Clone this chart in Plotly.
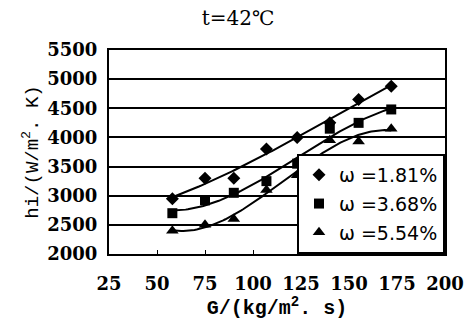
import numpy as np
import plotly.graph_objects as go

G = [58, 75, 90, 107, 123, 140, 155, 172]
hi_181 = [2950, 3300, 3300, 3800, 4000, 4250, 4650, 4880]
hi_368 = [2700, 2920, 3050, 3250, 3550, 4150, 4250, 4480]
hi_554 = [2400, 2500, 2600, 3100, 3350, 3950, 3930, 4150]
names = ["ω =1.81%", "ω =3.68%", "ω =5.54%"]
symbols = ["diamond", "square", "triangle-up"]
sizes = [9, 9, 10]
x_ticks = [25, 50, 75, 100, 125, 150, 175, 200]
y_ticks = [2000, 2500, 3000, 3500, 4000, 4500, 5000, 5500]

fig = go.Figure()
xs = np.linspace(min(G), max(G), 100)
for ys in [hi_181, hi_368, hi_554]:
    c = np.polyfit(G, ys, 3)
    fig.add_trace(go.Scatter(x=xs, y=np.polyval(c, xs), mode="lines",
                             line=dict(color="black", width=2), showlegend=False,
                             hoverinfo="skip"))
for i, (ys, n, s, sz) in enumerate(zip([hi_181, hi_368, hi_554], names, symbols, sizes)):
    fig.add_trace(go.Scatter(x=G, y=ys, mode="markers", name=n, legendgroup=f"g{i}",
                             marker=dict(symbol=s, size=sz + 1, color="black")))

tickfont = dict(family="DejaVu Serif", size=18, color="black", weight="bold")
fig.update_layout(
    width=476, height=320,
    margin=dict(l=109, r=21, t=50, b=63),
    paper_bgcolor="white", plot_bgcolor="white",
    title=dict(text="t=42℃", x=0.5, xanchor="center", y=0.945, yanchor="middle",
               font=dict(family="DejaVu Serif", size=20, color="black")),
    xaxis=dict(range=[25, 200], tickvals=x_ticks, showgrid=False, zeroline=False,
               showline=True, linecolor="black", linewidth=2, mirror=True,
               ticks="inside", ticklen=4, tickcolor="black",
               tickfont=tickfont, ticklabelstandoff=12,
               title=dict(text="G/(kg/m<sup>2</sup>. s)", standoff=0,
                          font=dict(family="Liberation Mono", size=20, color="black",
                                    weight="bold"))),
    yaxis=dict(range=[2000, 5500], tickvals=y_ticks, showgrid=True, gridcolor="black",
               gridwidth=1.5, zeroline=False, showline=True, linecolor="black",
               linewidth=2, mirror=True, ticks="", tickfont=tickfont,
               ticklabelstandoff=6,
               title=dict(text="hi/(W/m<sup>2</sup>. K)", standoff=4,
                          font=dict(family="Liberation Mono", size=19, color="black"))),
    legend=dict(x=1.0, xanchor="right", y=0.0, yanchor="bottom",
                bgcolor="white", bordercolor="black", borderwidth=2,
                font=dict(family="DejaVu Sans", size=19, color="black"),
                itemwidth=30, traceorder="grouped", tracegroupgap=1),
    showlegend=True,
)
fig.write_html("out.html")
